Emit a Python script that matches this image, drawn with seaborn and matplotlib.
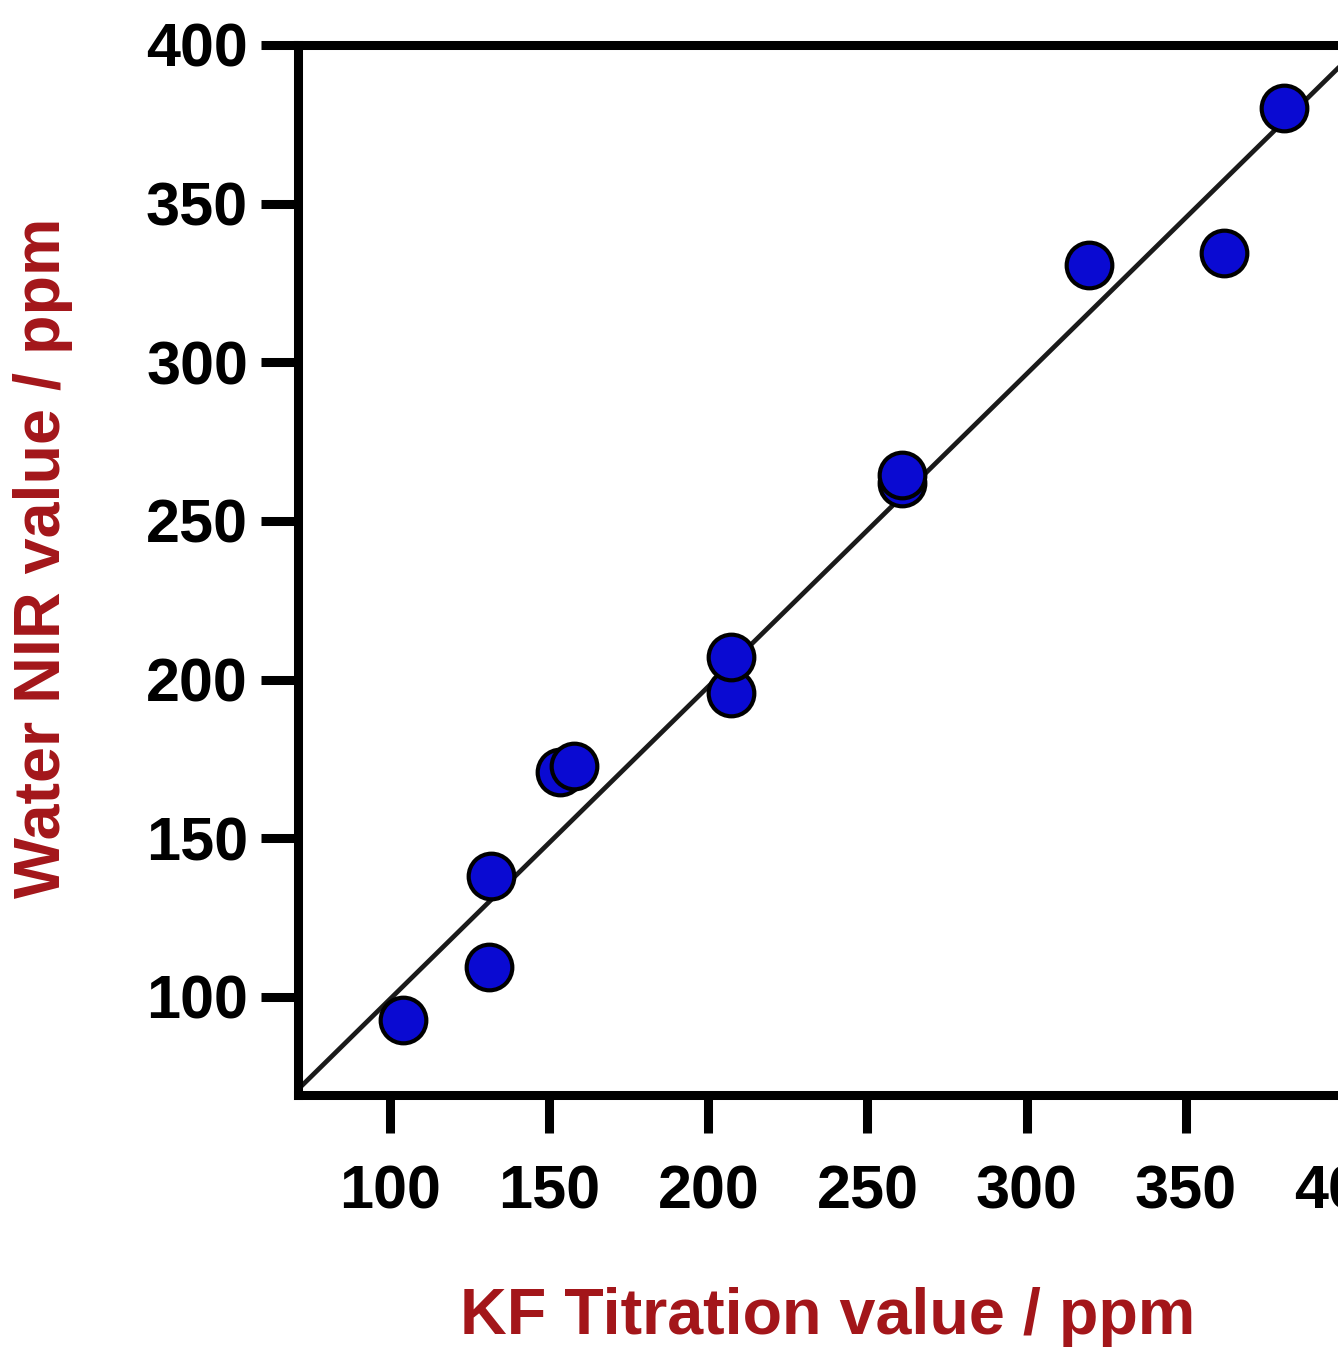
import matplotlib
matplotlib.use("Agg")
import matplotlib.pyplot as plt
import seaborn as sns
import pandas as pd

# KF titration (reference) vs NIR predicted water content, ppm
kf_values = [104.0, 131.1, 131.7, 153.4, 157.8, 207.1, 207.1, 260.8, 260.8, 319.5, 361.9, 380.8]
nir_values = [92.7, 109.5, 138.1, 170.9, 172.8, 195.8, 207.1, 261.9, 264.5, 330.6, 334.4, 380.1]
x_ticks = [100, 150, 200, 250, 300, 350, 400]
y_ticks = [100, 150, 200, 250, 300, 350, 400]

# calibration line
fit_slope = 0.985
fit_intercept = 0.8

label_color = "#a3161a"
point_color = "#0a0ad2"

if __name__ == "__main__":
    df = pd.DataFrame({"kf": kf_values, "nir": nir_values})

    sns.set_theme(style="ticks")
    plt.rcParams["font.family"] = ["Liberation Sans", "DejaVu Sans"]
    plt.rcParams["font.weight"] = "bold"

    fig = plt.figure(figsize=(13.38, 13.54), dpi=100)
    # axes deliberately runs past the right edge, like the cropped original
    ax = fig.add_axes([0.2227, 0.1913, 0.830, 0.7755])

    ax.axline((0, fit_intercept), slope=fit_slope, color="#1a1a1a", linewidth=3.4, zorder=1)
    sns.scatterplot(data=df, x="kf", y="nir", ax=ax, s=1080, color=point_color,
                    edgecolor="black", linewidth=3.0, zorder=3, clip_on=False)

    ax.set_xlim(71.1, 420)
    ax.set_ylim(69.1, 400)
    ax.set_xticks(x_ticks)
    ax.set_yticks(y_ticks)

    for side in ["left", "bottom", "top"]:
        ax.spines[side].set_linewidth(6.5)
        ax.spines[side].set_color("black")
    ax.spines["right"].set_visible(False)

    ax.tick_params(axis="both", length=27, width=6.5, color="black",
                   labelsize=44, labelcolor="black")
    ax.tick_params(axis="x", pad=23)
    ax.tick_params(axis="y", pad=9)
    for lab in ax.get_xticklabels() + ax.get_yticklabels():
        lab.set_fontweight("bold")

    ax.set_xlabel("KF Titration value / ppm", fontsize=46.5, fontweight="bold", color=label_color)
    ax.set_ylabel("Water NIR value / ppm", fontsize=46.5, fontweight="bold", color=label_color)
    ax.xaxis.set_label_coords(0.477, -0.183)
    ax.yaxis.set_label_coords(-0.2025, 0.512)

    fig.savefig("out.png", dpi=100)
